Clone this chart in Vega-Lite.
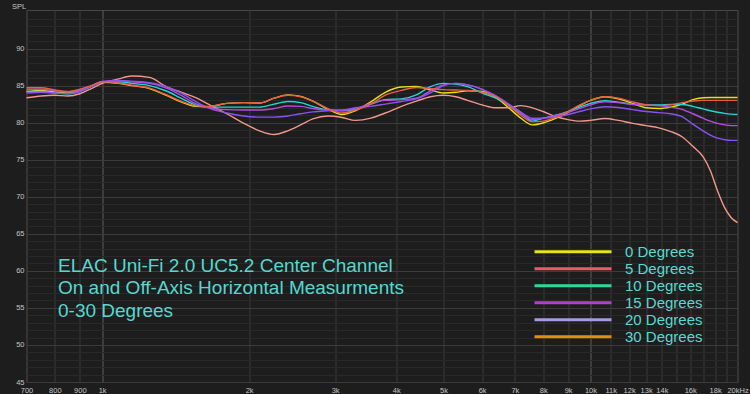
{
  "$schema": "https://vega.github.io/schema/vega-lite/v6.json",
  "width": 711,
  "height": 372,
  "autosize": {"type": "none"},
  "padding": {"left": 26.5, "top": 10, "right": 12.5, "bottom": 12},
  "background": "#1d1d1d",
  "config": {
    "font": "Liberation Sans",
    "view": {"stroke": "#474747", "strokeWidth": 1, "fill": "#1d1d1d"},
    "legend": {
      "orient": "none",
      "legendX": 506.5,
      "legendY": 233.5,
      "symbolType": "stroke",
      "symbolSize": 5929,
      "symbolStrokeWidth": 3,
      "labelFontSize": 15,
      "labelColor": "#5ad8d0",
      "labelFont": "Liberation Sans",
      "labelOffset": 12,
      "clipHeight": 16.3,
      "rowPadding": 0,
      "padding": 0,
      "symbolOffset": 0
    }
  },
  "title": {
    "text": ["ELAC Uni-Fi 2.0 UC5.2 Center Channel", "On and Off-Axis Horizontal Measurments", "0-30 Degrees"],
    "anchor": "start",
    "orient": "top",
    "frame": "group",
    "baseline": "top",
    "fontSize": 19,
    "fontWeight": "normal",
    "font": "Liberation Sans",
    "color": "#55d8d0",
    "lineHeight": 22.5,
    "dx": 31.5,
    "dy": 322
  },
  "datasets": {
    "curves": [
      {"f":700,"series":"0 Degrees","spl":84.2},{"f":700,"series":"5 Degrees","spl":83.35},{"f":700,"series":"10 Degrees","spl":84.2},{"f":700,"series":"15 Degrees","spl":84.5},{"f":700,"series":"20 Degrees","spl":84.0},{"f":700,"series":"30 Degrees","spl":84.7},
      {"f":750,"series":"0 Degrees","spl":84.35},{"f":750,"series":"5 Degrees","spl":83.6},{"f":750,"series":"10 Degrees","spl":84.2},{"f":750,"series":"15 Degrees","spl":84.5},{"f":750,"series":"20 Degrees","spl":84.1},{"f":750,"series":"30 Degrees","spl":84.7},
      {"f":800,"series":"0 Degrees","spl":84.15},{"f":800,"series":"5 Degrees","spl":83.7},{"f":800,"series":"10 Degrees","spl":84.0},{"f":800,"series":"15 Degrees","spl":84.3},{"f":800,"series":"20 Degrees","spl":84.0},{"f":800,"series":"30 Degrees","spl":84.4},
      {"f":850,"series":"0 Degrees","spl":84.0},{"f":850,"series":"5 Degrees","spl":83.6},{"f":850,"series":"10 Degrees","spl":83.9},{"f":850,"series":"15 Degrees","spl":84.15},{"f":850,"series":"20 Degrees","spl":83.9},{"f":850,"series":"30 Degrees","spl":84.2},
      {"f":900,"series":"0 Degrees","spl":84.3},{"f":900,"series":"5 Degrees","spl":83.9},{"f":900,"series":"10 Degrees","spl":84.2},{"f":900,"series":"15 Degrees","spl":84.4},{"f":900,"series":"20 Degrees","spl":84.2},{"f":900,"series":"30 Degrees","spl":84.5},
      {"f":950,"series":"0 Degrees","spl":84.9},{"f":950,"series":"5 Degrees","spl":84.6},{"f":950,"series":"10 Degrees","spl":84.9},{"f":950,"series":"15 Degrees","spl":85.0},{"f":950,"series":"20 Degrees","spl":84.9},{"f":950,"series":"30 Degrees","spl":85.0},
      {"f":1000,"series":"0 Degrees","spl":85.45},{"f":1000,"series":"5 Degrees","spl":85.3},{"f":1000,"series":"10 Degrees","spl":85.5},{"f":1000,"series":"15 Degrees","spl":85.55},{"f":1000,"series":"20 Degrees","spl":85.5},{"f":1000,"series":"30 Degrees","spl":85.5},
      {"f":1080,"series":"0 Degrees","spl":85.3},{"f":1080,"series":"5 Degrees","spl":85.9},{"f":1080,"series":"10 Degrees","spl":85.5},{"f":1080,"series":"15 Degrees","spl":85.65},{"f":1080,"series":"20 Degrees","spl":85.7},{"f":1080,"series":"30 Degrees","spl":85.35},
      {"f":1150,"series":"0 Degrees","spl":85.0},{"f":1150,"series":"5 Degrees","spl":86.3},{"f":1150,"series":"10 Degrees","spl":85.3},{"f":1150,"series":"15 Degrees","spl":85.5},{"f":1150,"series":"20 Degrees","spl":85.6},{"f":1150,"series":"30 Degrees","spl":85.05},
      {"f":1250,"series":"0 Degrees","spl":84.6},{"f":1250,"series":"5 Degrees","spl":86.1},{"f":1250,"series":"10 Degrees","spl":85.0},{"f":1250,"series":"15 Degrees","spl":85.3},{"f":1250,"series":"20 Degrees","spl":85.4},{"f":1250,"series":"30 Degrees","spl":84.65},
      {"f":1350,"series":"0 Degrees","spl":83.7},{"f":1350,"series":"5 Degrees","spl":84.9},{"f":1350,"series":"10 Degrees","spl":84.3},{"f":1350,"series":"15 Degrees","spl":84.7},{"f":1350,"series":"20 Degrees","spl":84.9},{"f":1350,"series":"30 Degrees","spl":83.8},
      {"f":1450,"series":"0 Degrees","spl":82.8},{"f":1450,"series":"5 Degrees","spl":84.1},{"f":1450,"series":"10 Degrees","spl":83.3},{"f":1450,"series":"15 Degrees","spl":83.7},{"f":1450,"series":"20 Degrees","spl":84.0},{"f":1450,"series":"30 Degrees","spl":82.9},
      {"f":1550,"series":"0 Degrees","spl":82.2},{"f":1550,"series":"5 Degrees","spl":83.4},{"f":1550,"series":"10 Degrees","spl":82.4},{"f":1550,"series":"15 Degrees","spl":82.6},{"f":1550,"series":"20 Degrees","spl":82.9},{"f":1550,"series":"30 Degrees","spl":82.3},
      {"f":1650,"series":"0 Degrees","spl":82.15},{"f":1650,"series":"5 Degrees","spl":82.5},{"f":1650,"series":"10 Degrees","spl":82.1},{"f":1650,"series":"15 Degrees","spl":82.0},{"f":1650,"series":"20 Degrees","spl":82.0},{"f":1650,"series":"30 Degrees","spl":82.2},
      {"f":1800,"series":"0 Degrees","spl":82.6},{"f":1800,"series":"5 Degrees","spl":81.2},{"f":1800,"series":"10 Degrees","spl":82.1},{"f":1800,"series":"15 Degrees","spl":81.75},{"f":1800,"series":"20 Degrees","spl":81.3},{"f":1800,"series":"30 Degrees","spl":82.6},
      {"f":1950,"series":"0 Degrees","spl":82.7},{"f":1950,"series":"5 Degrees","spl":79.9},{"f":1950,"series":"10 Degrees","spl":82.1},{"f":1950,"series":"15 Degrees","spl":81.7},{"f":1950,"series":"20 Degrees","spl":80.9},{"f":1950,"series":"30 Degrees","spl":82.7},
      {"f":2100,"series":"0 Degrees","spl":82.65},{"f":2100,"series":"5 Degrees","spl":78.9},{"f":2100,"series":"10 Degrees","spl":82.1},{"f":2100,"series":"15 Degrees","spl":81.7},{"f":2100,"series":"20 Degrees","spl":80.75},{"f":2100,"series":"30 Degrees","spl":82.65},
      {"f":2250,"series":"0 Degrees","spl":83.3},{"f":2250,"series":"5 Degrees","spl":78.4},{"f":2250,"series":"10 Degrees","spl":82.5},{"f":2250,"series":"15 Degrees","spl":81.9},{"f":2250,"series":"20 Degrees","spl":80.75},{"f":2250,"series":"30 Degrees","spl":83.3},
      {"f":2400,"series":"0 Degrees","spl":83.75},{"f":2400,"series":"5 Degrees","spl":78.9},{"f":2400,"series":"10 Degrees","spl":82.85},{"f":2400,"series":"15 Degrees","spl":82.25},{"f":2400,"series":"20 Degrees","spl":80.9},{"f":2400,"series":"30 Degrees","spl":83.7},
      {"f":2550,"series":"0 Degrees","spl":83.55},{"f":2550,"series":"5 Degrees","spl":79.7},{"f":2550,"series":"10 Degrees","spl":82.7},{"f":2550,"series":"15 Degrees","spl":82.2},{"f":2550,"series":"20 Degrees","spl":81.2},{"f":2550,"series":"30 Degrees","spl":83.5},
      {"f":2700,"series":"0 Degrees","spl":82.9},{"f":2700,"series":"5 Degrees","spl":80.5},{"f":2700,"series":"10 Degrees","spl":82.2},{"f":2700,"series":"15 Degrees","spl":81.9},{"f":2700,"series":"20 Degrees","spl":81.45},{"f":2700,"series":"30 Degrees","spl":82.9},
      {"f":2900,"series":"0 Degrees","spl":81.8},{"f":2900,"series":"5 Degrees","spl":80.9},{"f":2900,"series":"10 Degrees","spl":81.7},{"f":2900,"series":"15 Degrees","spl":81.7},{"f":2900,"series":"20 Degrees","spl":81.6},{"f":2900,"series":"30 Degrees","spl":81.9},
      {"f":3100,"series":"0 Degrees","spl":81.1},{"f":3100,"series":"5 Degrees","spl":80.7},{"f":3100,"series":"10 Degrees","spl":81.6},{"f":3100,"series":"15 Degrees","spl":81.65},{"f":3100,"series":"20 Degrees","spl":81.7},{"f":3100,"series":"30 Degrees","spl":81.3},
      {"f":3300,"series":"0 Degrees","spl":81.6},{"f":3300,"series":"5 Degrees","spl":80.3},{"f":3300,"series":"10 Degrees","spl":81.8},{"f":3300,"series":"15 Degrees","spl":81.9},{"f":3300,"series":"20 Degrees","spl":82.0},{"f":3300,"series":"30 Degrees","spl":81.7},
      {"f":3550,"series":"0 Degrees","spl":82.8},{"f":3550,"series":"5 Degrees","spl":80.6},{"f":3550,"series":"10 Degrees","spl":82.5},{"f":3550,"series":"15 Degrees","spl":82.6},{"f":3550,"series":"20 Degrees","spl":82.2},{"f":3550,"series":"30 Degrees","spl":82.5},
      {"f":3800,"series":"0 Degrees","spl":84.1},{"f":3800,"series":"5 Degrees","spl":81.3},{"f":3800,"series":"10 Degrees","spl":83.1},{"f":3800,"series":"15 Degrees","spl":83.0},{"f":3800,"series":"20 Degrees","spl":82.5},{"f":3800,"series":"30 Degrees","spl":83.7},
      {"f":4100,"series":"0 Degrees","spl":84.8},{"f":4100,"series":"5 Degrees","spl":82.2},{"f":4100,"series":"10 Degrees","spl":83.2},{"f":4100,"series":"15 Degrees","spl":83.1},{"f":4100,"series":"20 Degrees","spl":82.85},{"f":4100,"series":"30 Degrees","spl":84.35},
      {"f":4400,"series":"0 Degrees","spl":84.9},{"f":4400,"series":"5 Degrees","spl":82.9},{"f":4400,"series":"10 Degrees","spl":83.75},{"f":4400,"series":"15 Degrees","spl":83.3},{"f":4400,"series":"20 Degrees","spl":83.2},{"f":4400,"series":"30 Degrees","spl":84.75},
      {"f":4700,"series":"0 Degrees","spl":84.4},{"f":4700,"series":"5 Degrees","spl":83.5},{"f":4700,"series":"10 Degrees","spl":84.85},{"f":4700,"series":"15 Degrees","spl":84.3},{"f":4700,"series":"20 Degrees","spl":84.0},{"f":4700,"series":"30 Degrees","spl":84.6},
      {"f":5000,"series":"0 Degrees","spl":84.0},{"f":5000,"series":"5 Degrees","spl":83.7},{"f":5000,"series":"10 Degrees","spl":85.3},{"f":5000,"series":"15 Degrees","spl":85.1},{"f":5000,"series":"20 Degrees","spl":85.0},{"f":5000,"series":"30 Degrees","spl":84.45},
      {"f":5300,"series":"0 Degrees","spl":84.1},{"f":5300,"series":"5 Degrees","spl":83.5},{"f":5300,"series":"10 Degrees","spl":85.2},{"f":5300,"series":"15 Degrees","spl":85.3},{"f":5300,"series":"20 Degrees","spl":85.3},{"f":5300,"series":"30 Degrees","spl":84.4},
      {"f":5600,"series":"0 Degrees","spl":84.3},{"f":5600,"series":"5 Degrees","spl":83.0},{"f":5600,"series":"10 Degrees","spl":84.85},{"f":5600,"series":"15 Degrees","spl":85.1},{"f":5600,"series":"20 Degrees","spl":85.1},{"f":5600,"series":"30 Degrees","spl":84.35},
      {"f":6000,"series":"0 Degrees","spl":84.2},{"f":6000,"series":"5 Degrees","spl":82.4},{"f":6000,"series":"10 Degrees","spl":84.0},{"f":6000,"series":"15 Degrees","spl":84.5},{"f":6000,"series":"20 Degrees","spl":84.5},{"f":6000,"series":"30 Degrees","spl":84.1},
      {"f":6400,"series":"0 Degrees","spl":83.4},{"f":6400,"series":"5 Degrees","spl":82.0},{"f":6400,"series":"10 Degrees","spl":83.3},{"f":6400,"series":"15 Degrees","spl":83.6},{"f":6400,"series":"20 Degrees","spl":83.6},{"f":6400,"series":"30 Degrees","spl":83.5},
      {"f":6800,"series":"0 Degrees","spl":82.0},{"f":6800,"series":"5 Degrees","spl":82.0},{"f":6800,"series":"10 Degrees","spl":82.4},{"f":6800,"series":"15 Degrees","spl":82.4},{"f":6800,"series":"20 Degrees","spl":82.5},{"f":6800,"series":"30 Degrees","spl":82.3},
      {"f":7200,"series":"0 Degrees","spl":80.6},{"f":7200,"series":"5 Degrees","spl":82.3},{"f":7200,"series":"10 Degrees","spl":81.4},{"f":7200,"series":"15 Degrees","spl":81.2},{"f":7200,"series":"20 Degrees","spl":81.4},{"f":7200,"series":"30 Degrees","spl":81.0},
      {"f":7600,"series":"0 Degrees","spl":79.7},{"f":7600,"series":"5 Degrees","spl":82.0},{"f":7600,"series":"10 Degrees","spl":80.2},{"f":7600,"series":"15 Degrees","spl":80.4},{"f":7600,"series":"20 Degrees","spl":80.6},{"f":7600,"series":"30 Degrees","spl":80.1},
      {"f":8000,"series":"0 Degrees","spl":79.95},{"f":8000,"series":"5 Degrees","spl":81.5},{"f":8000,"series":"10 Degrees","spl":80.6},{"f":8000,"series":"15 Degrees","spl":80.6},{"f":8000,"series":"20 Degrees","spl":80.6},{"f":8000,"series":"30 Degrees","spl":80.2},
      {"f":8500,"series":"0 Degrees","spl":80.6},{"f":8500,"series":"5 Degrees","spl":80.8},{"f":8500,"series":"10 Degrees","spl":81.0},{"f":8500,"series":"15 Degrees","spl":81.0},{"f":8500,"series":"20 Degrees","spl":80.8},{"f":8500,"series":"30 Degrees","spl":80.75},
      {"f":9000,"series":"0 Degrees","spl":81.4},{"f":9000,"series":"5 Degrees","spl":80.4},{"f":9000,"series":"10 Degrees","spl":81.5},{"f":9000,"series":"15 Degrees","spl":81.4},{"f":9000,"series":"20 Degrees","spl":81.1},{"f":9000,"series":"30 Degrees","spl":81.5},
      {"f":9500,"series":"0 Degrees","spl":82.3},{"f":9500,"series":"5 Degrees","spl":80.2},{"f":9500,"series":"10 Degrees","spl":82.1},{"f":9500,"series":"15 Degrees","spl":81.9},{"f":9500,"series":"20 Degrees","spl":81.5},{"f":9500,"series":"30 Degrees","spl":82.35},
      {"f":10000,"series":"0 Degrees","spl":83.0},{"f":10000,"series":"5 Degrees","spl":80.3},{"f":10000,"series":"10 Degrees","spl":82.6},{"f":10000,"series":"15 Degrees","spl":82.4},{"f":10000,"series":"20 Degrees","spl":81.85},{"f":10000,"series":"30 Degrees","spl":83.0},
      {"f":10700,"series":"0 Degrees","spl":83.5},{"f":10700,"series":"5 Degrees","spl":80.55},{"f":10700,"series":"10 Degrees","spl":82.95},{"f":10700,"series":"15 Degrees","spl":82.8},{"f":10700,"series":"20 Degrees","spl":82.15},{"f":10700,"series":"30 Degrees","spl":83.5},
      {"f":11400,"series":"0 Degrees","spl":83.2},{"f":11400,"series":"5 Degrees","spl":80.3},{"f":11400,"series":"10 Degrees","spl":82.75},{"f":11400,"series":"15 Degrees","spl":82.7},{"f":11400,"series":"20 Degrees","spl":82.05},{"f":11400,"series":"30 Degrees","spl":83.3},
      {"f":12200,"series":"0 Degrees","spl":82.6},{"f":12200,"series":"5 Degrees","spl":79.9},{"f":12200,"series":"10 Degrees","spl":82.5},{"f":12200,"series":"15 Degrees","spl":82.45},{"f":12200,"series":"20 Degrees","spl":81.75},{"f":12200,"series":"30 Degrees","spl":82.8},
      {"f":13000,"series":"0 Degrees","spl":82.0},{"f":13000,"series":"5 Degrees","spl":79.6},{"f":13000,"series":"10 Degrees","spl":82.4},{"f":13000,"series":"15 Degrees","spl":82.35},{"f":13000,"series":"20 Degrees","spl":81.5},{"f":13000,"series":"30 Degrees","spl":82.4},
      {"f":13800,"series":"0 Degrees","spl":81.9},{"f":13800,"series":"5 Degrees","spl":79.3},{"f":13800,"series":"10 Degrees","spl":82.4},{"f":13800,"series":"15 Degrees","spl":82.3},{"f":13800,"series":"20 Degrees","spl":81.35},{"f":13800,"series":"30 Degrees","spl":82.3},
      {"f":14600,"series":"0 Degrees","spl":82.1},{"f":14600,"series":"5 Degrees","spl":78.8},{"f":14600,"series":"10 Degrees","spl":82.45},{"f":14600,"series":"15 Degrees","spl":82.1},{"f":14600,"series":"20 Degrees","spl":81.2},{"f":14600,"series":"30 Degrees","spl":82.4},
      {"f":15400,"series":"0 Degrees","spl":82.5},{"f":15400,"series":"5 Degrees","spl":78.1},{"f":15400,"series":"10 Degrees","spl":82.45},{"f":15400,"series":"15 Degrees","spl":81.8},{"f":15400,"series":"20 Degrees","spl":80.8},{"f":15400,"series":"30 Degrees","spl":82.7},
      {"f":16200,"series":"0 Degrees","spl":83.1},{"f":16200,"series":"5 Degrees","spl":76.8},{"f":16200,"series":"10 Degrees","spl":82.2},{"f":16200,"series":"15 Degrees","spl":81.2},{"f":16200,"series":"20 Degrees","spl":79.8},{"f":16200,"series":"30 Degrees","spl":82.9},
      {"f":17000,"series":"0 Degrees","spl":83.35},{"f":17000,"series":"5 Degrees","spl":75.4},{"f":17000,"series":"10 Degrees","spl":81.85},{"f":17000,"series":"15 Degrees","spl":80.6},{"f":17000,"series":"20 Degrees","spl":78.9},{"f":17000,"series":"30 Degrees","spl":83.0},
      {"f":17600,"series":"0 Degrees","spl":83.4},{"f":17600,"series":"5 Degrees","spl":73.5},{"f":17600,"series":"10 Degrees","spl":81.6},{"f":17600,"series":"15 Degrees","spl":80.2},{"f":17600,"series":"20 Degrees","spl":78.3},{"f":17600,"series":"30 Degrees","spl":83.0},
      {"f":18200,"series":"0 Degrees","spl":83.4},{"f":18200,"series":"5 Degrees","spl":70.8},{"f":18200,"series":"10 Degrees","spl":81.4},{"f":18200,"series":"15 Degrees","spl":79.9},{"f":18200,"series":"20 Degrees","spl":77.9},{"f":18200,"series":"30 Degrees","spl":83.0},
      {"f":18800,"series":"0 Degrees","spl":83.4},{"f":18800,"series":"5 Degrees","spl":68.6},{"f":18800,"series":"10 Degrees","spl":81.25},{"f":18800,"series":"15 Degrees","spl":79.7},{"f":18800,"series":"20 Degrees","spl":77.7},{"f":18800,"series":"30 Degrees","spl":83.0},
      {"f":19400,"series":"0 Degrees","spl":83.4},{"f":19400,"series":"5 Degrees","spl":67.2},{"f":19400,"series":"10 Degrees","spl":81.15},{"f":19400,"series":"15 Degrees","spl":79.6},{"f":19400,"series":"20 Degrees","spl":77.6},{"f":19400,"series":"30 Degrees","spl":83.0},
      {"f":20000,"series":"0 Degrees","spl":83.4},{"f":20000,"series":"5 Degrees","spl":66.5},{"f":20000,"series":"10 Degrees","spl":81.1},{"f":20000,"series":"15 Degrees","spl":79.6},{"f":20000,"series":"20 Degrees","spl":77.6},{"f":20000,"series":"30 Degrees","spl":83.0}
    ],
    "legendRows": [
      {"label": "0 Degrees"}, {"label": "5 Degrees"}, {"label": "10 Degrees"},
      {"label": "15 Degrees"}, {"label": "20 Degrees"}, {"label": "30 Degrees"}
    ]
  },
  "encoding": {
    "x": {
      "field": "f",
      "type": "quantitative",
      "scale": {"type": "log", "domain": [700, 20000], "nice": false},
      "axis": {
        "title": null,
        "values": [700, 800, 900, 1000, 2000, 3000, 4000, 5000, 6000, 7000, 8000, 9000, 10000, 11000, 12000, 13000, 14000, 15000, 16000, 17000, 18000, 19000, 20000],
        "labelExpr": "datum.value == 20000 ? '20kHz' : (datum.value == 15000 || datum.value == 17000 || datum.value == 19000) ? '' : datum.value >= 1000 ? (datum.value / 1000) + 'k' : '' + datum.value",
        "grid": true,
        "gridColor": {"condition": {"test": "datum.value == 1000 || datum.value == 10000", "value": "#5e5e5e"}, "value": "#3a3a3a"},
        "gridWidth": 1,
        "ticks": false,
        "domain": false,
        "labelFlush": false,
        "labelOverlap": false,
        "labelPadding": 4.5,
        "labelFontSize": 7.5,
        "labelColor": "#c4c4c4",
        "labelBaseline": "top"
      }
    },
    "y": {
      "field": "spl",
      "type": "quantitative",
      "scale": {"domain": [45, 95.2], "nice": false, "zero": false},
      "axis": {
        "values": [45,46,47,48,49,50,51,52,53,54,55,56,57,58,59,60,61,62,63,64,65,66,67,68,69,70,71,72,73,74,75,76,77,78,79,80,81,82,83,84,85,86,87,88,89,90,91,92,93,94],
        "labelExpr": "datum.value % 5 === 0 ? datum.label : ''",
        "grid": true,
        "gridColor": {"condition": {"test": "datum.value % 5 === 0", "value": "#3c3c3c"}, "value": "#292929"},
        "ticks": false,
        "domain": false,
        "labelOverlap": false,
        "labelFlush": false,
        "labelPadding": 2.5,
        "labelFontSize": 7.5,
        "labelColor": "#c4c4c4",
        "title": "SPL",
        "titleAngle": 0,
        "titleAlign": "left",
        "titleBaseline": "alphabetic",
        "titleX": -15,
        "titleY": -1.5,
        "titleFontSize": 7.5,
        "titleFontWeight": "normal",
        "titleColor": "#c4c4c4"
      }
    }
  },
  "layer": [
    {
      "data": {"name": "curves"},
      "mark": {"type": "line", "interpolate": "monotone", "strokeWidth": 1.4},
      "encoding": {
        "color": {
          "field": "series",
          "type": "nominal",
          "scale": {
            "domain": ["20 Degrees", "15 Degrees", "10 Degrees", "30 Degrees", "0 Degrees", "5 Degrees"],
            "range": ["#8a52f2", "#b44ee0", "#22d6d6", "#e85e44", "#e6e012", "#f0988a"]
          },
          "legend": null
        }
      }
    },
    {
      "data": {"name": "legendRows"},
      "mark": {"type": "line"},
      "encoding": {
        "color": {
          "field": "label",
          "type": "nominal",
          "scale": {
            "domain": ["0 Degrees", "5 Degrees", "10 Degrees", "15 Degrees", "20 Degrees", "30 Degrees"],
            "range": ["#e8e020", "#ea5a68", "#30d898", "#b040d0", "#a898e8", "#e0900c"]
          },
          "legend": {"title": null}
        }
      }
    }
  ],
  "resolve": {"scale": {"color": "independent"}}
}
